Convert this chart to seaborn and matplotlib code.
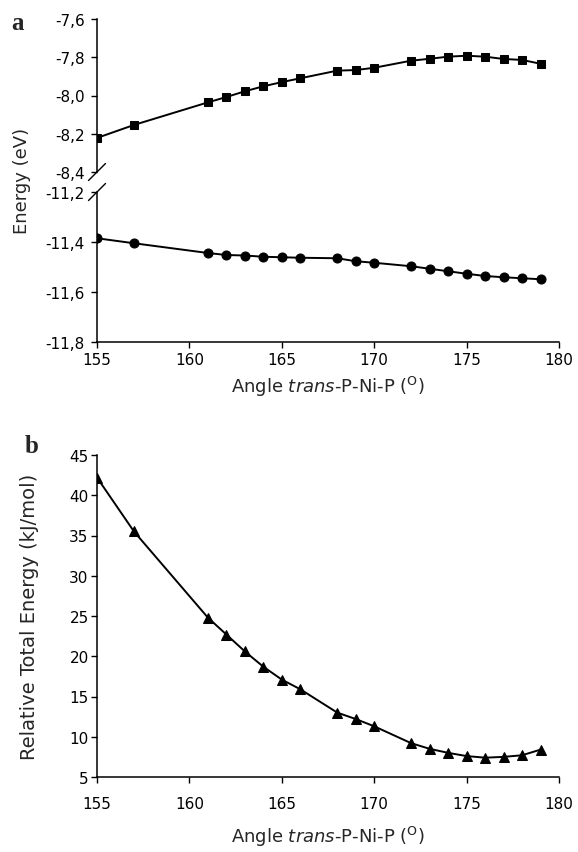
import matplotlib
matplotlib.use("Agg")
import matplotlib.pyplot as plt
import seaborn as sns
import pandas as pd
from matplotlib.ticker import FuncFormatter

# ---- data ----
angles = [155, 157, 161, 162, 163, 164, 165, 166, 168, 169, 170, 172, 173, 174, 175, 176, 177, 178, 179]
energy_upper = [-8.222, -8.154, -8.036, -8.008, -7.978, -7.952, -7.930, -7.910, -7.870, -7.867,
                -7.855, -7.818, -7.808, -7.797, -7.792, -7.797, -7.809, -7.814, -7.834]
energy_lower = [-11.385, -11.405, -11.444, -11.452, -11.454, -11.459, -11.461, -11.463, -11.465, -11.477,
                -11.483, -11.497, -11.507, -11.517, -11.527, -11.536, -11.541, -11.545, -11.549]
rel_energy = [42.2, 35.5, 24.8, 22.7, 20.6, 18.7, 17.1, 15.9, 13.0, 12.2,
              11.3, 9.2, 8.5, 8.0, 7.6, 7.4, 7.5, 7.7, 8.4]
x_ticks = [155, 160, 165, 170, 175, 180]
upper_ticks = [-8.4, -8.2, -8.0, -7.8, -7.6]
lower_ticks = [-11.8, -11.6, -11.4, -11.2]
b_ticks = [5, 10, 15, 20, 25, 30, 35, 40, 45]

df = pd.DataFrame({"angle": angles, "upper": energy_upper, "lower": energy_lower, "rel": rel_energy})

sns.set_style("ticks")
plt.rcParams["font.family"] = ["DejaVu Sans"]
plt.rcParams["mathtext.fontset"] = "dejavusans"
plt.rcParams["xtick.direction"] = "out"
plt.rcParams["ytick.direction"] = "out"

fig = plt.figure(figsize=(5.78, 8.53), dpi=100)
W, H = 578.0, 853.0
L = 97 / W
Wd = 462 / W
ax_top = fig.add_axes([L, 1 - 173 / H, Wd, 153 / H])
ax_bot = fig.add_axes([L, 1 - 343 / H, Wd, 150 / H])
ax_b = fig.add_axes([L, 1 - 778 / H, Wd, 322 / H])

lw = 1.4
sns.lineplot(data=df, x="angle", y="upper", ax=ax_top, color="black", marker="s",
             markersize=6, markeredgecolor="black", linewidth=lw)
sns.lineplot(data=df, x="angle", y="lower", ax=ax_bot, color="black", marker="o",
             markersize=6.5, markeredgecolor="black", linewidth=lw)
sns.lineplot(data=df, x="angle", y="rel", ax=ax_b, color="black", marker="^",
             markersize=6.5, markeredgecolor="black", linewidth=lw)

comma = FuncFormatter(lambda v, p: f"{v:.1f}".replace(".", ","))
tick_fs = 11

for ax in (ax_top, ax_bot, ax_b):
    ax.set_xlim(155, 180)
    ax.set_xticks(x_ticks)
    for s in ("top", "right"):
        ax.spines[s].set_visible(False)
    for s in ("left", "bottom"):
        ax.spines[s].set_linewidth(1.1)
        ax.spines[s].set_color("black")
    ax.tick_params(axis="both", labelsize=tick_fs, length=4, width=1.0, colors="black")
    ax.set_ylabel("")
    ax.set_xlabel("")
    ax.set_facecolor("none")

ax_top.set_ylim(-8.4, -7.6)
ax_top.set_yticks(upper_ticks)
ax_top.yaxis.set_major_formatter(comma)
ax_top.spines["bottom"].set_visible(False)
ax_top.tick_params(axis="x", bottom=False, labelbottom=False)
ax_top.tick_params(axis="y", pad=5)

ax_bot.set_ylim(-11.8, -11.2)
ax_bot.set_yticks(lower_ticks)
ax_bot.yaxis.set_major_formatter(comma)
ax_bot.tick_params(axis="y", pad=5)
ax_bot.tick_params(axis="x", pad=3)

ax_b.set_ylim(5, 45)
ax_b.set_yticks(b_ticks)
ax_b.tick_params(axis="y", pad=2)
ax_b.tick_params(axis="x", pad=10)

xlabel = r"Angle $\mathit{trans}$-P-Ni-P ($^{\mathrm{O}}$)"
ax_bot.set_xlabel(xlabel, fontsize=13, labelpad=5)
ax_b.set_xlabel(xlabel, fontsize=13, labelpad=9)
ax_b.set_ylabel("Relative Total Energy (kJ/mol)", fontsize=14)
ax_b.yaxis.set_label_coords(-0.125, 0.5)

fig.text(22 / W, 1 - 181 / H, "Energy (eV)", rotation=90, ha="center", va="center", fontsize=13)

# axis break marks
dx = 8.5 / 462
kw = dict(color="black", linewidth=1.0, clip_on=False)
dy_t = 8.5 / 153
ax_top.plot([-dx, dx], [-dy_t, dy_t], transform=ax_top.transAxes, **kw)
dy_b = 8.5 / 150
ax_bot.plot([-dx, dx], [1 - dy_b, 1 + dy_b], transform=ax_bot.transAxes, **kw)

# panel letters
fig.text(18 / W, 1 - 24 / H, "a", fontsize=18, fontweight="bold",
         family=["Liberation Serif", "DejaVu Serif"], ha="center", va="center")
fig.text(32 / W, 1 - 447 / H, "b", fontsize=18, fontweight="bold",
         family=["Liberation Serif", "DejaVu Serif"], ha="center", va="center")

fig.savefig("out.png", dpi=100, facecolor="white")
